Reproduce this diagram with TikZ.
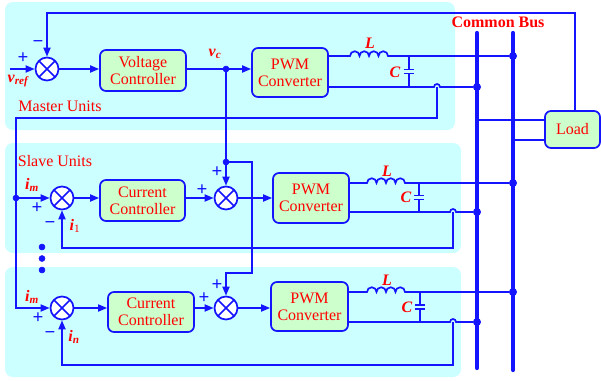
\documentclass[tikz,border=0pt]{standalone}
\usepackage{fontspec}
\setmainfont{Liberation Serif}
\usetikzlibrary{arrows.meta,calc}
\definecolor{bl}{RGB}{20,20,255}
\definecolor{cy}{RGB}{204,255,255}
\definecolor{grn}{RGB}{204,255,204}
\definecolor{rd}{RGB}{255,0,0}
\tikzset{
 ln/.style={draw=bl, line width=1.7pt},
 arr/.style={ln, -{Triangle[length=9pt,width=7pt]}},
 blk/.style={draw=bl, fill=grn, line width=1.7pt, rounded corners=6pt, align=center, text=rd, font=\fontsize{16}{17}\selectfont, inner sep=0pt},
 sum/.style={circle, draw=bl, fill=white, line width=1.7pt, minimum size=23pt, inner sep=0pt,
   path picture={\draw[bl, line width=1.7pt] (path picture bounding box.north west) -- (path picture bounding box.south east) (path picture bounding box.north east) -- (path picture bounding box.south west);}},
 pm/.style={text=bl, font=\bfseries\fontsize{19}{19}\selectfont, inner sep=0pt},
 var/.style={text=rd, font=\bfseries\itshape\fontsize{16}{16}\selectfont, inner sep=0pt},
 ttl/.style={text=rd, font=\fontsize{16}{16}\selectfont, inner sep=0pt},
 panel/.style={fill=cy, rounded corners=8pt},
 jdot/.style={circle, fill=bl, draw=bl, line width=0.5pt, inner sep=0pt, minimum size=6pt},
 bdot/.style={circle, fill=bl, inner sep=0pt, minimum size=8pt},
 bus/.style={draw=bl, line width=4.2pt, line cap=round},
}
\newcommand{\coilpath}{arc(180:0:4.75pt) arc(180:0:4.75pt) arc(180:0:4.75pt) arc(180:0:4.75pt)}
\begin{document}
\begin{tikzpicture}[x=1pt,y=-1pt]
\useasboundingbox (0,0) rectangle (601,380);
% panels
\fill[panel] (5,2) rectangle (455,130);
\fill[panel] (5,143) rectangle (461,253);
\fill[panel] (5,267) rectangle (461,377);
\node[ttl] (mu) at (60,106) {Master Units};
\node[ttl] (su) at (55,161) {Slave Units};
% bus
\coordinate (b1t) at (477,33); \coordinate (b1b) at (477,368);
\coordinate (b2t) at (513,33); \coordinate (b2b) at (513,370);
\draw[bus] (b1t) -- (b1b);
\draw[bus] (b2t) -- (b2b);
\node[text=rd, font=\bfseries\fontsize{16}{16}\selectfont, inner sep=0pt] (cb) at (498,22) {Common Bus};
% load
\node[blk, minimum width=55pt, minimum height=37pt] (load) at (572.5,129.5) {Load};
\coordinate (l1) at (477,120); \coordinate (l2) at (513,140);
\draw[ln] (l1) -- (l1 -| load.west);
\draw[ln] (l2) -- (l2 -| load.west);
% ---------- master ----------
\node[sum] (m1) at (47,69) {};
\node[blk, minimum width=86pt, minimum height=41pt] (vc) at (143,70.5) {Voltage\\Controller};
\node[blk, minimum width=76pt, minimum height=49pt] (p0) at (290,72.5) {PWM\\Converter};
\coordinate (vin) at (10,69);
\draw[arr] (vin) -- (m1);
\draw[arr] (m1) -- (m1 -| vc.west);
\coordinate (vcd) at (226,69);
\draw[ln] (vc.east |- vcd) -- (vcd);
\draw[arr] (vcd) -- (vcd -| p0.west);
\node[pm] (m1p) at (23,58) {+};
\node[pm] (m1m) at (38,44) {−};
\node[var] (vref) at (18,81) {v\textsubscript{ref}};
\node[var] (vcl) at (215,54) {v\textsubscript{c}};
\coordinate (ltop) at (575,13); \coordinate (ltopl) at (47,13);
\draw[arr] (load.north -| ltop) -- (ltop) -- (ltopl) -- (m1.north);
% LC master
\coordinate (a0) at (350,56); \node[bdot] (d0u) at (513,56) {};
\draw[ln] (p0.east |- a0) -- (a0) \coilpath -- (d0u);
\coordinate (c0t) at (409,56); \coordinate (c0b) at (409,87);
\draw[ln] (c0t) -- (409,69.5) (404,69.5) -- (414,69.5) (404,73.5) -- (414,73.5) (409,73.5) -- (c0b);
\node[bdot] (d0l) at (477,87) {};
\coordinate (h0) at (434,87);
\draw[ln] (p0.east |- h0) -- (h0) arc(180:0:3pt) -- (d0l);
\node[var] (L0) at (370,43) {L};
\node[var] (C0) at (395,72) {C};
% master current feedback loop
\coordinate (f0) at (437,87); \coordinate (f0b) at (437,118); \coordinate (f0l) at (16,118);
\coordinate (imd) at (16,198);
\coordinate (f0e) at (16,308);
% ---------- slave 1 ----------
\node[sum] (s1a) at (62,198) {};
\node[blk, minimum width=85pt, minimum height=41pt] (cc1) at (142.5,200.5) {Current\\Controller};
\node[sum] (s1b) at (226,198) {};
\node[blk, minimum width=76pt, minimum height=50pt] (p1) at (311,198) {PWM\\Converter};
\draw[ln] (f0) -- (f0b) -- (f0l) -- (imd);
\draw[arr] (imd) -- (s1a);
\draw[arr] (s1a) -- (s1a -| cc1.west);
\draw[arr] (cc1.east |- s1b) -- (s1b);
\draw[arr] (s1b) -- (s1b -| p1.west);
\coordinate (vcd2) at (226,162);
\draw[ln] (vcd) -- (vcd2);
\draw[arr] (vcd2) -- (s1b.north);
\node[var] (im1) at (32,185) {i\textsubscript{\textit{m}}};
\node[pm] (s1ap) at (37,208) {+};
\node[pm] (s1am) at (50,225) {−};
\node[var] (i1) at (75,226) {i\textsubscript{\normalfont 1}};
\node[pm] (s1bp) at (202,190) {+};
\node[pm] (s1bq) at (217,172) {+};
\coordinate (a1) at (367,183); \node[bdot] (d1u) at (513,183) {};
\draw[ln] (p1.east |- a1) -- (a1) \coilpath -- (d1u);
\coordinate (c1t) at (419,183); \coordinate (c1b) at (419,212);
\draw[ln] (c1t) -- (419,195.5) (414,195.5) -- (424,195.5) (414,199.5) -- (424,199.5) (419,199.5) -- (c1b);
\node[bdot] (d1l) at (477,212) {};
\coordinate (h1) at (450,212);
\draw[ln] (p1.east |- h1) -- (h1) arc(180:0:3pt) -- (d1l);
\node[var] (L1) at (387,171) {L};
\node[var] (C1) at (406,197) {C};
\coordinate (f1) at (453,212); \coordinate (f1b) at (453,248); \coordinate (f1l) at (62,248);
\draw[arr] (f1) -- (f1b) -- (f1l) -- (s1a.south);
% ---------- slave 2 ----------
\node[sum] (s2a) at (62,308) {};
\node[blk, minimum width=86pt, minimum height=40pt] (cc2) at (151,312) {Current\\Controller};
\node[sum] (s2b) at (226,308) {};
\node[blk, minimum width=77pt, minimum height=49pt] (p2) at (309.5,306.5) {PWM\\Converter};
\draw[arr] (imd) -- (f0e) -- (s2a);
\draw[arr] (s2a) -- (s2a -| cc2.west);
\draw[arr] (cc2.east |- s2b) -- (s2b);
\draw[arr] (s2b) -- (s2b -| p2.west);
\coordinate (g1) at (252,162); \coordinate (g2) at (252,273); \coordinate (g3) at (226,273);
\draw[arr] (vcd2) -- (g1) -- (g2) -- (g3) -- (s2b.north);
\node[var] (im2) at (32,297) {i\textsubscript{\textit{m}}};
\node[pm] (s2ap) at (38,318) {+};
\node[pm] (s2am) at (50,335) {−};
\node[var] (in) at (74,337) {i\textsubscript{\textit{n}}};
\node[pm] (s2bp) at (204,298) {+};
\node[pm] (s2bq) at (217,285) {+};
\coordinate (a2) at (367,292); \node[bdot] (d2u) at (513,292) {};
\draw[ln] (p2.east |- a2) -- (a2) \coilpath -- (d2u);
\coordinate (c2t) at (420,292); \coordinate (c2b) at (420,322);
\draw[ln] (c2t) -- (420,305) (415,305) -- (425,305) (415,309) -- (425,309) (420,309) -- (c2b);
\node[bdot] (d2l) at (477,322) {};
\coordinate (h2) at (450,322);
\draw[ln] (p2.east |- h2) -- (h2) arc(180:0:3pt) -- (d2l);
\node[var] (L2) at (387,280) {L};
\node[var] (C2) at (407,307) {C};
\coordinate (f2) at (453,322); \coordinate (f2b) at (453,365); \coordinate (f2l) at (62,365);
\draw[arr] (f2) -- (f2b) -- (f2l) -- (s2a.south);
% junction dots on top
\node[jdot] (vcdot) at (vcd) {};
\node[jdot] (vcdot2) at (vcd2) {};
\node[jdot] (imdot) at (imd) {};
\node[jdot] (e1) at (42,247) {};
\node[jdot] (e2) at (42,258.5) {};
\node[jdot] (e3) at (42,270) {};
\end{tikzpicture}
\end{document}
